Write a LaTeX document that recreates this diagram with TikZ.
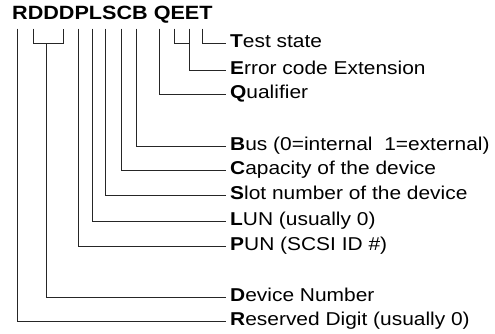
\documentclass[tikz,border=0pt]{standalone}
\usepackage{fontspec}
\setmainfont[FakeStretch=1.125]{Liberation Sans}
\begin{document}
\begin{tikzpicture}[x=1pt, y=-1pt, font=\fontsize{18.6}{20}\selectfont,
	lbl/.style={anchor=west, inner xsep=4pt, inner ysep=0pt, text height=0.85em, text depth=0pt},
	lead/.style={line width=0.9pt, black!85}]
	\useasboundingbox (0,0) rectangle (495,333);
	\node[anchor=base west, inner sep=0pt, font=\fontsize{19.2}{20}\selectfont\bfseries] (code) at (12,19.3) {RDDDPLSCB QEET};
	% line tops under the letters
	\coordinate (tR) at (17.7,28.5);
	\coordinate (tDa) at (33.3,28.5);
	\coordinate (tDb) at (63.3,28.5);
	\coordinate (jD) at (46,43.3);
	\coordinate (tP) at (78.7,28.5);
	\coordinate (tL) at (92,28.5);
	\coordinate (tS) at (105.3,28.5);
	\coordinate (tC) at (121,28.5);
	\coordinate (tB) at (136.7,28.5);
	\coordinate (tQ) at (159,28.5);
	\coordinate (tEa) at (174,28.5);
	\coordinate (tEb) at (189,28.5);
	\coordinate (tT) at (202.7,28.5);
	% labels
	\node[lbl] (lT) at (226,43.5) {\textbf{T}est state};
	\node[lbl] (lE) at (226,70) {\textbf{E}rror code Extension};
	\node[lbl] (lQ) at (226,94.5) {\textbf{Q}ualifier};
	\node[lbl] (lB) at (226,146) {\textbf{B}us (0=internal~~1=external)};
	\node[lbl] (lC) at (226,170.5) {\textbf{C}apacity of the device};
	\node[lbl] (lS) at (226,195.5) {\textbf{S}lot number of the device};
	\node[lbl] (lL) at (226,221.5) {\textbf{L}UN (usually 0)};
	\node[lbl] (lP) at (226,246) {\textbf{P}UN (SCSI ID \#)};
	\node[lbl] (lD) at (226,297) {\textbf{D}evice Number};
	\node[lbl] (lR) at (226,321.7) {\textbf{R}eserved Digit (usually 0)};
	% leaders
	\draw[lead] (tT) |- (lT.west);
	\draw[lead] (tEa) |- (tEb |- lT.west);
	\draw[lead] (tEb) |- (lE.west);
	\draw[lead] (tQ) |- (lQ.west);
	\draw[lead] (tB) |- (lB.west);
	\draw[lead] (tC) |- (lC.west);
	\draw[lead] (tS) |- (lS.west);
	\draw[lead] (tL) |- (lL.west);
	\draw[lead] (tP) |- (lP.west);
	\draw[lead] (tDa) |- (jD) -| (tDb);
	\draw[lead] (jD) |- (lD.west);
	\draw[lead] (tR) |- (lR.west);
\end{tikzpicture}
\end{document}
